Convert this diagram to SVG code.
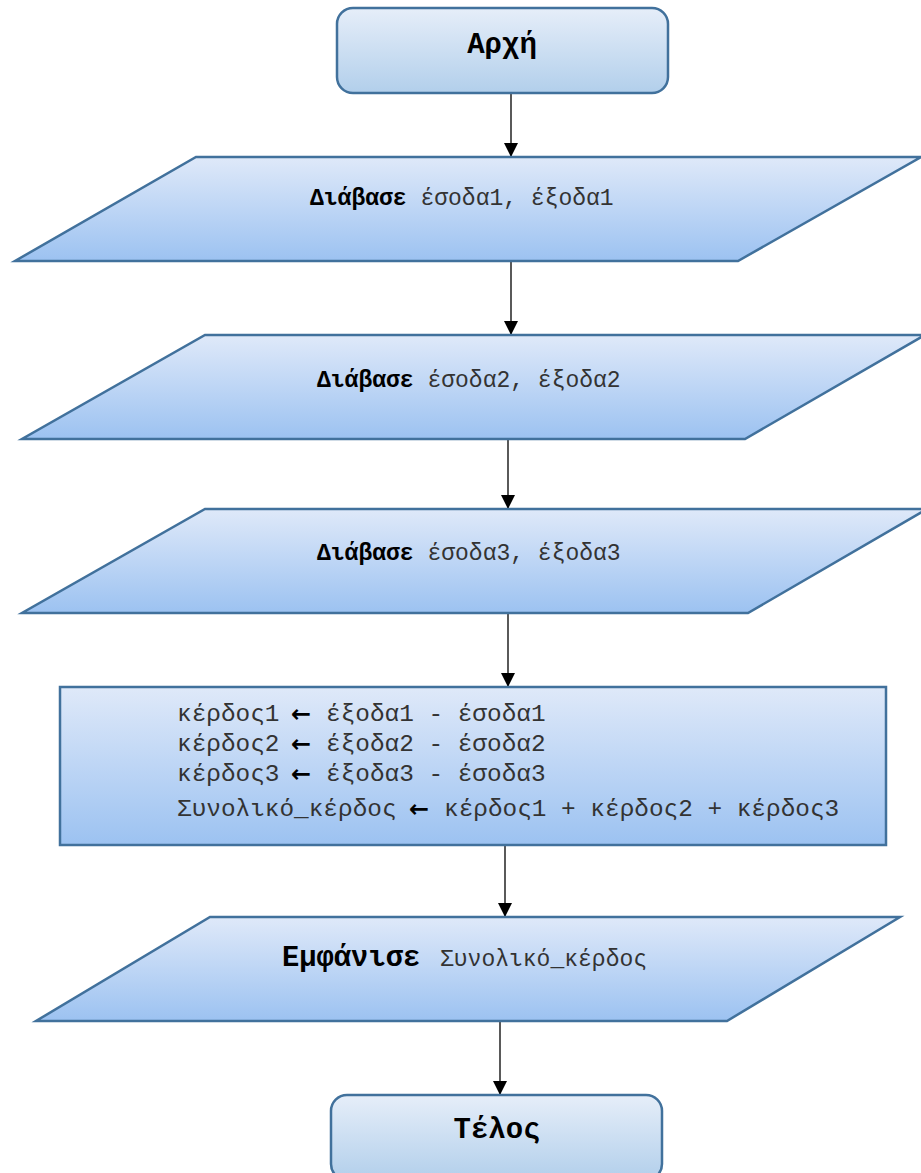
<svg xmlns="http://www.w3.org/2000/svg" width="921" height="1173" viewBox="0 0 921 1173">
  <style>
    .term { fill: url(#gTerm); stroke: #41719c; stroke-width: 2.5; }
    .io, .proc { fill: url(#gBody); stroke: #41719c; stroke-width: 2.5; }
    .t { font-family: "Liberation Mono", "DejaVu Sans Mono", monospace; fill: #333; }
    .b { font-weight: bold; fill: #000; }
    .arr { font-family: "DejaVu Sans", sans-serif; font-weight: bold; fill: #000; font-size: 24px; }
    .edge { stroke: #000; stroke-width: 1.3; fill: none; marker-end: url(#arrow); }
  </style>
  <defs>
    <linearGradient id="gTerm" x1="0" y1="0" x2="0" y2="1">
      <stop offset="0" stop-color="#e6eef9"/>
      <stop offset="1" stop-color="#b2cfeb"/>
    </linearGradient>
    <linearGradient id="gBody" x1="0" y1="0" x2="0" y2="1">
      <stop offset="0" stop-color="#dfe9f9"/>
      <stop offset="1" stop-color="#9cc2f1"/>
    </linearGradient>
    <marker id="arrow" markerUnits="userSpaceOnUse" markerWidth="16" markerHeight="14" refX="14" refY="7" orient="auto">
      <path d="M0,0 L14,7 L0,14 Z" fill="#000"/>
    </marker>
  </defs>

  <!-- flow connectors -->
  <g id="connectors">
    <line class="edge" x1="511" y1="93" x2="511" y2="157"/>
    <line class="edge" x1="511" y1="261" x2="511" y2="335"/>
    <line class="edge" x1="508" y1="439" x2="508" y2="509"/>
    <line class="edge" x1="508" y1="613" x2="508" y2="687"/>
    <line class="edge" x1="505" y1="845" x2="505" y2="917"/>
    <line class="edge" x1="500" y1="1021" x2="500" y2="1095"/>
  </g>

  <g id="start">
    <rect class="term" x="337" y="8" width="331" height="85" rx="16"/>
    <text class="t b" x="502" y="53" font-size="29" text-anchor="middle">Αρχή</text>
  </g>

  <g id="read1">
    <polygon class="io" points="196,157 921,157 738,261 15,261"/>
    <text class="t" x="310" y="205" font-size="23"><tspan class="b">Διάβασε</tspan> έσοδα1, έξοδα1</text>
  </g>

  <g id="read2">
    <polygon class="io" points="205,335 925,335 745,439 22,439"/>
    <text class="t" x="317" y="387" font-size="23"><tspan class="b">Διάβασε</tspan> έσοδα2, έξοδα2</text>
  </g>

  <g id="read3">
    <polygon class="io" points="205,509 927,509 748,613 22,613"/>
    <text class="t" x="317" y="560" font-size="23"><tspan class="b">Διάβασε</tspan> έσοδα3, έξοδα3</text>
  </g>

  <g id="compute">
    <rect class="proc" x="60" y="687" width="826" height="158"/>
    <g class="t" font-size="24.4">
      <text x="177" y="721">κέρδος1</text>
      <text class="arr" x="291" y="722">←</text>
      <text x="326" y="721">έξοδα1 - έσοδα1</text>

      <text x="177" y="751">κέρδος2</text>
      <text class="arr" x="291" y="752">←</text>
      <text x="326" y="751">έξοδα2 - έσοδα2</text>

      <text x="177" y="781">κέρδος3</text>
      <text class="arr" x="291" y="782">←</text>
      <text x="326" y="781">έξοδα3 - έσοδα3</text>

      <text x="177" y="816">Συνολικό_κέρδος</text>
      <text class="arr" x="409" y="817">←</text>
      <text x="444" y="816">κέρδος1 + κέρδος2 + κέρδος3</text>
    </g>
  </g>

  <g id="show">
    <polygon class="io" points="210,917 900,917 727,1021 36,1021"/>
    <text class="t" y="966"><tspan class="b" x="282" font-size="28.8">Εμφάνισε</tspan><tspan x="440" font-size="23">Συνολικό_κέρδος</tspan></text>
  </g>

  <g id="end">
    <rect class="term" x="331" y="1095" width="331" height="85" rx="16"/>
    <text class="t b" x="497" y="1138" font-size="29" text-anchor="middle">Τέλος</text>
  </g>
</svg>
